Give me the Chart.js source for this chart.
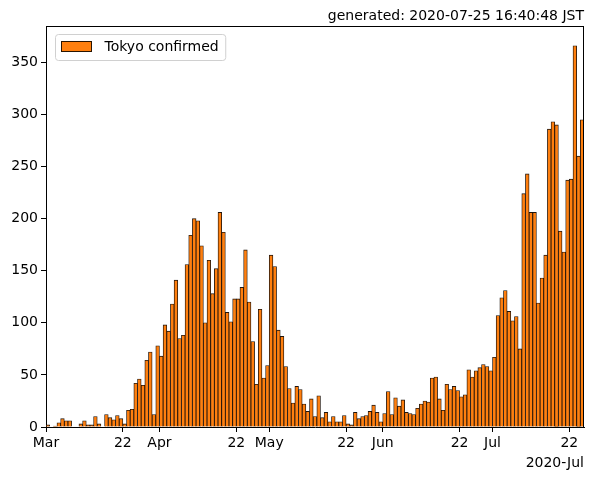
<!DOCTYPE html>
<html>
<head>
<meta charset="utf-8">
<script src="https://cdn.jsdelivr.net/npm/chart.js@4.4.0/dist/chart.umd.min.js"></script>
<style>
html, body { margin: 0; padding: 0; background: #fff; }
#wrap { width: 599px; height: 480px; }
</style>
</head>
<body>
<div id="wrap"><canvas id="chart"></canvas></div>
<script>
const FONT = '"DejaVu Sans", "Noto Sans", sans-serif';

const generatedAt = "generated: 2020-07-25 16:40:48 JST";
const seriesLabel = "Tokyo confirmed";
const offsetLabel = "2020-Jul";

// daily confirmed cases, one per day from 2020-03-01 to 2020-07-25
const confirmed = [
    2, 0, 1, 4, 8, 6, 6, 0, 0, 3, 6, 2, 2, 10, 3, 0, 12, 9, 7, 11, 8, 3,          // Mar 1-22
    16, 17, 42, 46, 40, 64, 72, 12, 78,                                          // Mar 23-31
    68, 98, 92, 118, 141, 85, 88, 156, 184, 200, 198, 174, 100, 160, 128,        // Apr 1-15
    152, 206, 187, 110, 101, 123, 123, 134, 170, 120, 82, 41, 113, 47, 59,       // Apr 16-30
    165, 154, 93, 87, 58, 37, 23, 39, 36, 22, 15, 27, 10, 30, 9, 14,             // May 1-16
    5, 10, 5, 5, 11, 3, 2, 14, 8, 10, 11, 15, 21, 14, 5,                         // May 17-31
    13, 34, 12, 28, 20, 26, 14, 13, 12, 18, 22, 25, 24, 47, 48,                  // Jun 1-15
    27, 16, 41, 36, 39, 35, 29, 31, 55, 48, 54, 57, 60, 58, 54,                  // Jun 16-30
    67, 107, 124, 131, 111, 102, 106, 75, 224, 243, 206, 206, 119,               // Jul 1-13
    143, 165, 286, 293, 290, 188, 168, 237, 238, 366, 260, 295                   // Jul 14-25
];

// tick positions in days since Mar 1 and their labels
const tickDays   = [0, 21, 31, 52, 61, 82, 92, 113, 122, 143];
const tickLabels = ["Mar", "22", "Apr", "22", "May", "22", "Jun", "22", "Jul", "22"];
const yTicks = [0, 50, 100, 150, 200, 250, 300, 350];
const Y_MAX = 385;

const frame = {
    id: "frame",
    afterDatasetsDraw(chart) {
        const { ctx, chartArea: a } = chart;
        ctx.save();
        ctx.strokeStyle = "#000";
        ctx.lineWidth = 1;
        ctx.beginPath();
        ctx.moveTo(a.left, a.top + 0.5);
        ctx.lineTo(a.right, a.top + 0.5);
        ctx.moveTo(a.right - 0.5, a.top);
        ctx.lineTo(a.right - 0.5, a.bottom);
        ctx.stroke();
        ctx.restore();
    },
};

const legendBox = {
    id: "legendBox",
    afterDraw(chart) {
        const { ctx, chartArea: a } = chart;
        const ds = chart.data.datasets[0];
        ctx.save();
        ctx.font = `14px ${FONT}`;
        const x = a.left + 9.5, y = a.top + 8.5;
        const w = 49 + ctx.measureText(ds.label).width + 7, h = 26;
        ctx.beginPath();
        ctx.roundRect(x, y, w, h, 3);
        ctx.fillStyle = "rgba(255,255,255,0.8)";
        ctx.fill();
        ctx.strokeStyle = "#d0d0d0";
        ctx.lineWidth = 1;
        ctx.stroke();
        ctx.fillStyle = ds.backgroundColor;
        ctx.fillRect(x + 6, y + 7, 30, 10);
        ctx.strokeStyle = "#2a1400";
        ctx.strokeRect(x + 6, y + 7, 30, 10);
        ctx.fillStyle = "#000";
        ctx.textBaseline = "middle";
        ctx.fillText(ds.label, x + 49, y + 13);
        ctx.restore();
    },
};

new Chart(document.getElementById("chart"), {
    type: "bar",
    data: {
        datasets: [{
            label: seriesLabel,
            data: confirmed.map((v, i) => ({ x: i + 0.5, y: v })),
            backgroundColor: "#ff7f0e",
            borderColor: "rgba(20,8,0,0.95)",
            borderWidth: 0.85,
            borderSkipped: "start",
            barPercentage: 1,
            categoryPercentage: 1,
        }],
    },
    options: {
        responsive: true,
        maintainAspectRatio: false,
        animation: false,
        layout: { padding: { top: 0, right: 15, left: 0, bottom: 0 } },
        plugins: {
            legend: { display: false },
            tooltip: { enabled: false },
            title: {
                display: true,
                text: generatedAt,
                align: "end",
                color: "#000",
                font: { family: FONT, size: 14, weight: "normal" },
                padding: { top: 8, bottom: 1.2 },
            },
        },
        scales: {
            x: {
                type: "linear",
                min: 0,
                max: confirmed.length,
                offset: false,
                grid: { offset: false, drawOnChartArea: false, drawTicks: true, tickLength: 5, tickColor: "#000" },
                border: { display: true, color: "#000", width: 1 },
                afterBuildTicks: (s) => { s.ticks = tickDays.map(v => ({ value: v })); },
                afterFit: (s) => { s.height = 53; },
                ticks: {
                    color: "#000",
                    font: { family: FONT, size: 14 },
                    padding: 3,
                    maxRotation: 0,
                    autoSkip: false,
                    callback: (v) => tickLabels[tickDays.indexOf(v)],
                },
                title: {
                    display: true,
                    text: offsetLabel,
                    align: "end",
                    color: "#000",
                    font: { family: FONT, size: 14 },
                    padding: { top: 4, bottom: 8.6 },
                },
            },
            y: {
                min: 0,
                max: Y_MAX,
                grid: { drawOnChartArea: false, drawTicks: true, tickLength: 5, tickColor: "#000" },
                border: { display: true, color: "#000", width: 1 },
                afterBuildTicks: (s) => { s.ticks = yTicks.map(v => ({ value: v })); },
                afterFit: (s) => { s.width = 46; },
                ticks: {
                    color: "#000",
                    font: { family: FONT, size: 14 },
                    padding: 3,
                },
            },
        },
    },
    plugins: [frame, legendBox],
});
</script>
</body>
</html>
